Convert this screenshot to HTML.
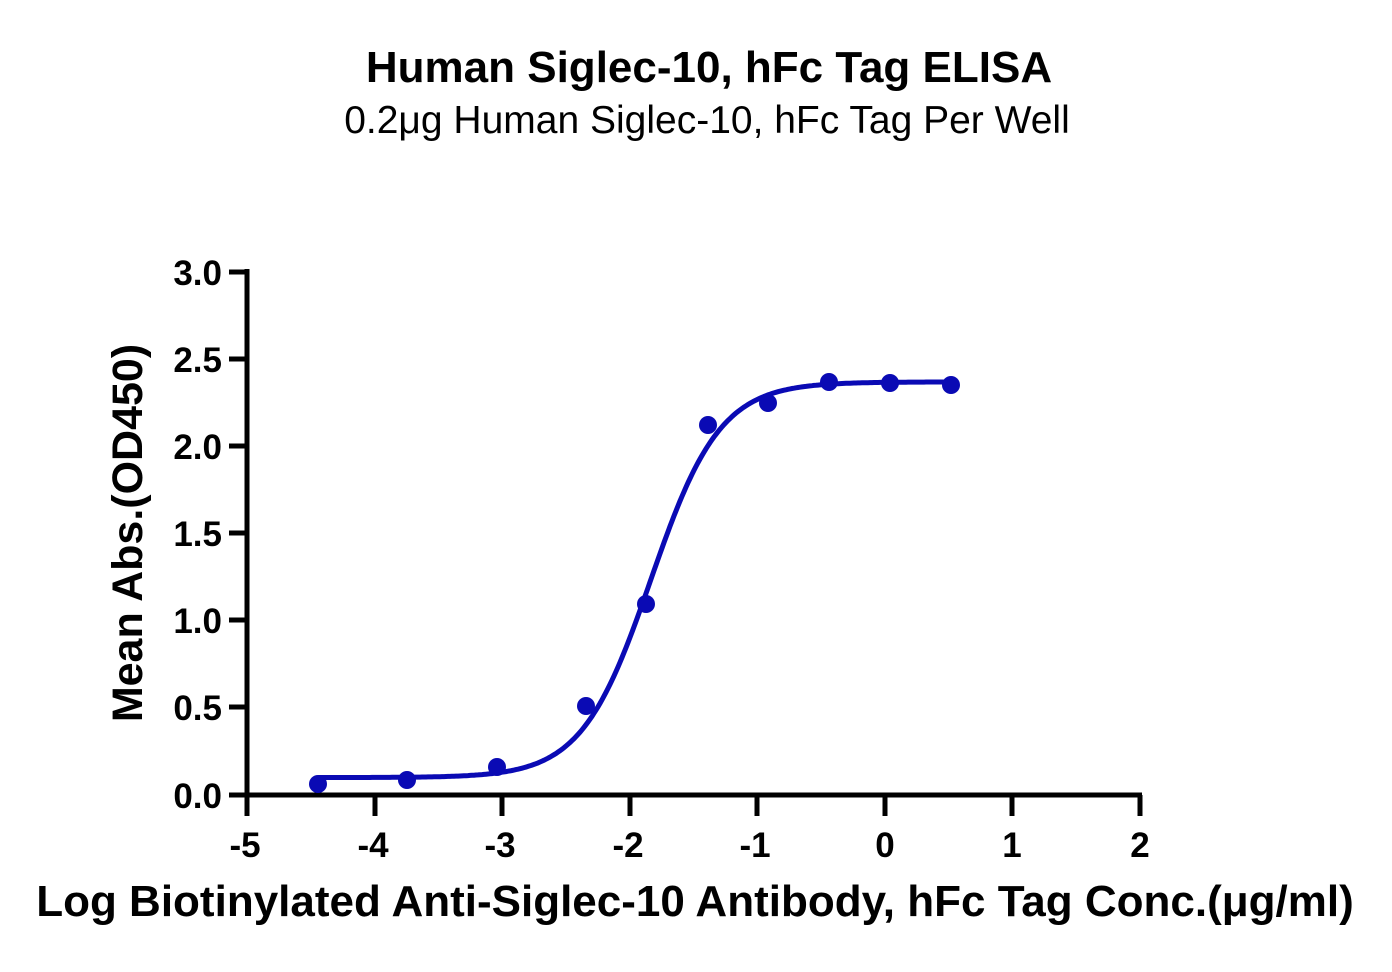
<!DOCTYPE html>
<html><head><meta charset="utf-8"><style>
html,body{margin:0;padding:0;background:#fff;}
svg{display:block;font-family:"Liberation Sans",Arial,sans-serif;}
</style></head><body>
<svg width="1392" height="972" viewBox="0 0 1392 972" xmlns="http://www.w3.org/2000/svg">
<text x="709" y="82" text-anchor="middle" font-size="44" font-weight="bold">Human Siglec-10, hFc Tag ELISA</text>
<text x="707" y="133" text-anchor="middle" font-size="39">0.2μg Human Siglec-10, hFc Tag Per Well</text>
<g stroke="#000" stroke-width="5" fill="none">
<line x1="247" y1="269" x2="247" y2="797"/>
<line x1="245" y1="795" x2="1142" y2="795"/>
<line x1="229" y1="272" x2="247" y2="272"/>
<line x1="229" y1="359" x2="247" y2="359"/>
<line x1="229" y1="446" x2="247" y2="446"/>
<line x1="229" y1="533" x2="247" y2="533"/>
<line x1="229" y1="620" x2="247" y2="620"/>
<line x1="229" y1="707" x2="247" y2="707"/>
<line x1="229" y1="795" x2="247" y2="795"/>
<line x1="247" y1="795" x2="247" y2="816"/>
<line x1="375" y1="795" x2="375" y2="816"/>
<line x1="502" y1="795" x2="502" y2="816"/>
<line x1="630" y1="795" x2="630" y2="816"/>
<line x1="757" y1="795" x2="757" y2="816"/>
<line x1="885" y1="795" x2="885" y2="816"/>
<line x1="1012" y1="795" x2="1012" y2="816"/>
<line x1="1140" y1="795" x2="1140" y2="816"/>
</g>
<g font-size="35" font-weight="bold" text-anchor="end">
<text x="222" y="285">3.0</text>
<text x="222" y="372">2.5</text>
<text x="222" y="459">2.0</text>
<text x="222" y="546">1.5</text>
<text x="222" y="633">1.0</text>
<text x="222" y="720">0.5</text>
<text x="222" y="808">0.0</text>
</g>
<g font-size="35" font-weight="bold" text-anchor="middle">
<text x="245" y="857">-5</text>
<text x="373" y="857">-4</text>
<text x="500" y="857">-3</text>
<text x="628" y="857">-2</text>
<text x="755" y="857">-1</text>
<text x="885" y="857">0</text>
<text x="1012" y="857">1</text>
<text x="1140" y="857">2</text>
</g>
<text x="695" y="916" text-anchor="middle" font-size="44" font-weight="bold">Log Biotinylated Anti-Siglec-10 Antibody, hFc Tag Conc.(μg/ml)</text>
<text transform="translate(142,533) rotate(-90)" text-anchor="middle" font-size="43" font-weight="bold">Mean Abs.(OD450)</text>
<path id="curve" fill="none" stroke="#0a0ab4" stroke-width="5" d=""/>
<g fill="#0a0ab4">
<circle cx="318" cy="784" r="9"/>
<circle cx="407" cy="780" r="9"/>
<circle cx="497" cy="767" r="9"/>
<circle cx="586" cy="706" r="9"/>
<circle cx="646" cy="604" r="9"/>
<circle cx="708" cy="425" r="9"/>
<circle cx="768" cy="403" r="9"/>
<circle cx="829" cy="382" r="9"/>
<circle cx="890" cy="383" r="9"/>
<circle cx="951" cy="385" r="9"/>
</g>
<script>
(function(){var d="";for(var px=318;px<=951;px+=2){var L=(px-246)/127.7-5;var y=0.1+2.27/(1+Math.pow(10,(-1.83-L)*1.6));var py=795-y*174.3;d+=(d?"L":"M")+px+","+py.toFixed(1);}document.getElementById("curve").setAttribute("d",d);})();
</script>
</svg>
</body></html>
